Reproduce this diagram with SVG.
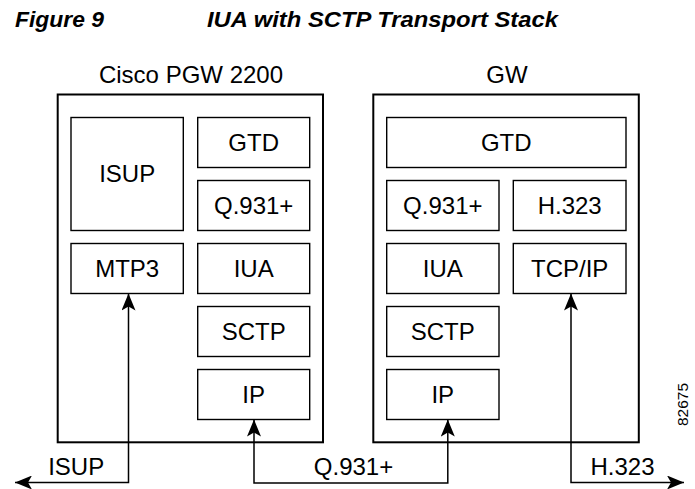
<svg xmlns="http://www.w3.org/2000/svg" width="695" height="489" viewBox="0 0 695 489">
  <style>
    .title { font-family: "Liberation Sans", Arial, sans-serif; font-weight: bold; font-style: italic; font-size: 22px; fill: #000; }
    .lbl { font-family: "Liberation Sans", Arial, sans-serif; font-size: 24px; fill: #000; text-anchor: middle; }
    .outer { fill: none; stroke: #000; stroke-width: 2; }
    .inner { fill: none; stroke: #000; stroke-width: 1.4; }
    .conn { fill: none; stroke: #000; stroke-width: 1.5; }
    .tag { font-family: "Liberation Sans", Arial, sans-serif; font-size: 14px; fill: #000; }
  </style>
  <defs>
    <marker id="arr" markerUnits="userSpaceOnUse" viewBox="0 0 17 14" refX="17" refY="7" markerWidth="17" markerHeight="14" orient="auto-start-reverse">
      <path d="M0,0 L17,7 L0,14 L4,7 Z" fill="#000"/>
    </marker>
  </defs>
  <rect width="695" height="489" fill="#fff"/>

  <text class="title" x="15" y="27.3" textLength="89" lengthAdjust="spacingAndGlyphs">Figure 9</text>
  <text class="title" x="207" y="27.3" textLength="351" lengthAdjust="spacingAndGlyphs">IUA with SCTP Transport Stack</text>

  <g id="pgw">
    <text class="lbl" x="191" y="82.7">Cisco PGW 2200</text>
    <rect class="outer" x="57.7" y="94.5" width="265.3" height="347.8"/>
  </g>
  <g id="pgw-isup"><rect class="inner" x="71" y="117.5" width="112.3" height="113"/><text class="lbl" x="127.2" y="182">ISUP</text></g>
  <g id="pgw-gtd"><rect class="inner" x="197.7" y="117.5" width="112" height="50"/><text class="lbl" x="253.7" y="151">GTD</text></g>
  <g id="pgw-q931"><rect class="inner" x="197.7" y="180.5" width="112" height="50"/><text class="lbl" x="253.7" y="214">Q.931+</text></g>
  <g id="pgw-mtp3"><rect class="inner" x="71" y="243.5" width="112.3" height="50"/><text class="lbl" x="127.2" y="277">MTP3</text></g>
  <g id="pgw-iua"><rect class="inner" x="197.7" y="243.5" width="112" height="50"/><text class="lbl" x="253.7" y="277">IUA</text></g>
  <g id="pgw-sctp"><rect class="inner" x="197.7" y="306.5" width="112" height="50"/><text class="lbl" x="253.7" y="340">SCTP</text></g>
  <g id="pgw-ip"><rect class="inner" x="197.7" y="369.5" width="112" height="50"/><text class="lbl" x="253.7" y="403">IP</text></g>

  <g id="gw">
    <text class="lbl" x="507" y="82.7">GW</text>
    <rect class="outer" x="373.3" y="94.5" width="265.5" height="347.8"/>
  </g>
  <g id="gw-gtd"><rect class="inner" x="386.7" y="117.5" width="239.3" height="50"/><text class="lbl" x="506.3" y="151">GTD</text></g>
  <g id="gw-q931"><rect class="inner" x="386.7" y="180.5" width="112.3" height="50"/><text class="lbl" x="442.8" y="214">Q.931+</text></g>
  <g id="gw-h323"><rect class="inner" x="513.3" y="180.5" width="112.7" height="50"/><text class="lbl" x="569.7" y="214">H.323</text></g>
  <g id="gw-iua"><rect class="inner" x="386.7" y="243.5" width="112.3" height="50"/><text class="lbl" x="442.8" y="277">IUA</text></g>
  <g id="gw-tcpip"><rect class="inner" x="513.3" y="243.5" width="112.7" height="50"/><text class="lbl" x="569.7" y="277">TCP/IP</text></g>
  <g id="gw-sctp"><rect class="inner" x="386.7" y="306.5" width="112.3" height="50"/><text class="lbl" x="442.8" y="340">SCTP</text></g>
  <g id="gw-ip"><rect class="inner" x="386.7" y="369.5" width="112.3" height="50"/><text class="lbl" x="442.8" y="403">IP</text></g>

  <g id="connectors">
    <path class="conn" d="M15,482.5 H128.5 V293.5" marker-start="url(#arr)" marker-end="url(#arr)"/>
    <path class="conn" d="M254,419.5 V483 H447.8 V419.5" marker-start="url(#arr)" marker-end="url(#arr)"/>
    <path class="conn" d="M571,293.5 V482.5 H684" marker-start="url(#arr)" marker-end="url(#arr)"/>
    <text class="lbl" x="76.2" y="475">ISUP</text>
    <text class="lbl" x="353.5" y="475">Q.931+</text>
    <text class="lbl" x="622.5" y="475">H.323</text>
  </g>

  <text class="tag" transform="translate(688,426) rotate(-90)" textLength="43" lengthAdjust="spacingAndGlyphs">82675</text>
</svg>
